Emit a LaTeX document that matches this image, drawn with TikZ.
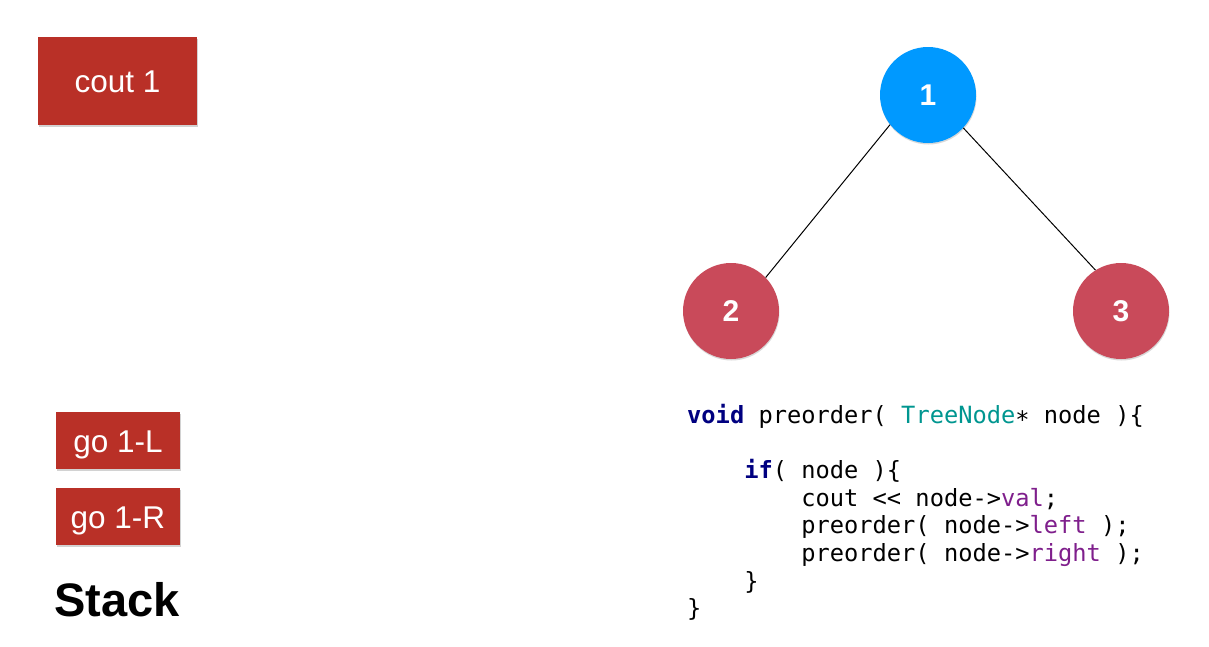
\documentclass[tikz,border=0pt]{standalone}
\usepackage{fontspec}
\newfontfamily\hv{Liberation Sans}
\newfontfamily\cm{DejaVu Sans Mono}
\usetikzlibrary{shadows}
\definecolor{boxred}{HTML}{B93027}
\definecolor{nodeblue}{HTML}{0099FF}
\definecolor{nodered}{HTML}{C94A5A}
\definecolor{kwblue}{HTML}{000080}
\definecolor{typeteal}{HTML}{009690}
\definecolor{fieldpurple}{HTML}{7F1F8C}
\newcommand{\kw}[1]{\textcolor{kwblue}{\bfseries #1}}
\newcommand{\ty}[1]{\textcolor{typeteal}{#1}}
\newcommand{\fd}[1]{\textcolor{fieldpurple}{#1}}
\begin{document}
\begin{tikzpicture}[x=1pt,y=-1pt,
  stackbox/.style={fill=boxred, text=white, inner sep=0pt,
    font=\hv\fontsize{31.5}{34}\selectfont, text depth=0pt,
    drop shadow={shadow xshift=1pt, shadow yshift=-1.5pt, opacity=0.35}},
  treenode/.style={circle, minimum size=96pt, inner sep=0pt, text=white,
    font=\hv\bfseries\fontsize{30}{32}\selectfont,
    drop shadow={shadow xshift=0.5pt, shadow yshift=-1.5pt, opacity=0.3}},
  codeline/.style={anchor=base west, inner sep=0pt,
    font=\cm\fontsize{23.7}{27.7}\selectfont}]
\useasboundingbox (0,0) rectangle (1209,646);
\fill[white] (0,0) rectangle (1209,646);
% stack boxes
\node[stackbox, minimum width=159pt, minimum height=88pt, text height=23.4pt] (cout) at (117.5,81) {cout 1};
\node[stackbox, minimum width=124pt, minimum height=57pt, text height=24.4pt] (goL) at (118,440.5) {go 1-L};
\node[stackbox, minimum width=124pt, minimum height=57pt, text height=24.4pt] (goR) at (118,516.5) {go 1-R};
\node[anchor=west, inner sep=0pt, font=\hv\bfseries\fontsize{47}{50}\selectfont] (stack) at (54,600) {Stack};
% tree
\node[treenode, fill=nodeblue] (n1) at (928,95) {1};
\node[treenode, fill=nodered] (n2) at (731,311) {2};
\node[treenode, fill=nodered] (n3) at (1121,311) {3};
\draw[line width=1pt] (n1.218) -- (n2.44);
\draw[line width=1pt] (n1.317) -- (n3.122);
% code
\node[codeline] (c1) at (687,423) {\kw{void} preorder( \ty{TreeNode}∗ node )\{};
\node[codeline] (c2) at (687,478.4) {\phantom{xxxx}\kw{if}( node )\{};
\node[codeline] (c3) at (687,506.1) {\phantom{xxxxxxxx}cout << node->\fd{val};};
\node[codeline] (c4) at (687,533.8) {\phantom{xxxxxxxx}preorder( node->\fd{left} );};
\node[codeline] (c5) at (687,561.5) {\phantom{xxxxxxxx}preorder( node->\fd{right} );};
\node[codeline] (c6) at (687,589.2) {\phantom{xxxx}\}};
\node[codeline] (c7) at (687,616.9) {\}};
\end{tikzpicture}
\end{document}
